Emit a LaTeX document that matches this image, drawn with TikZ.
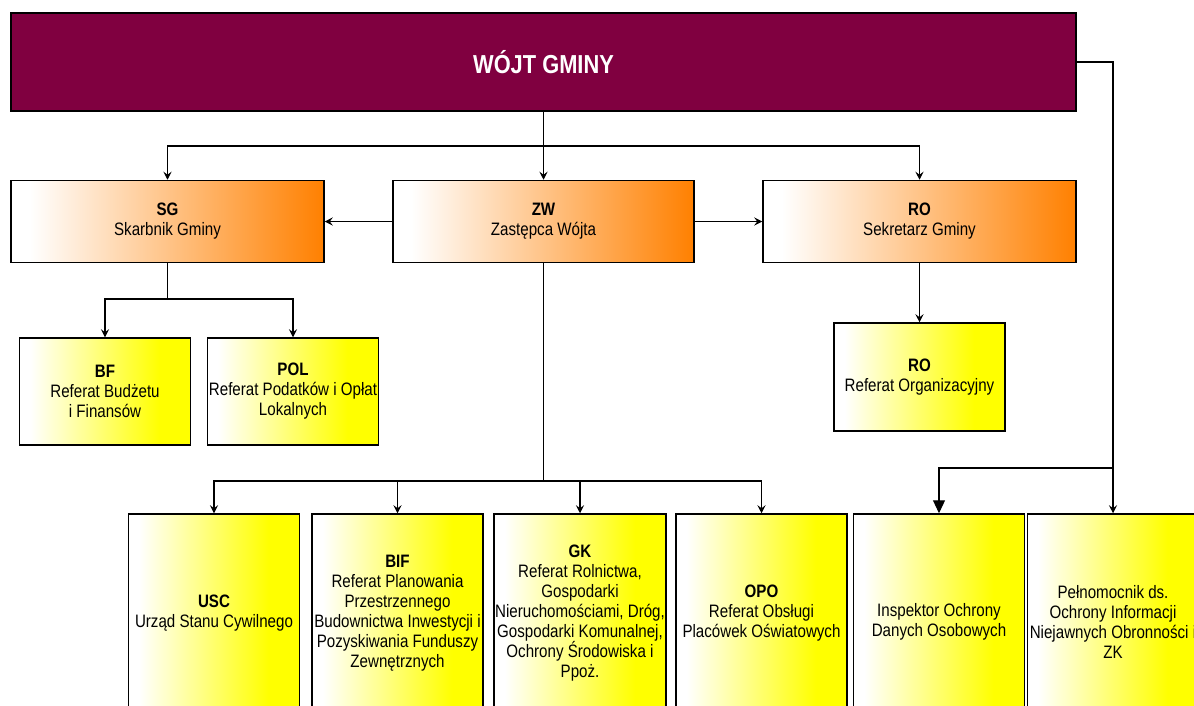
\documentclass[tikz,border=0pt]{standalone}
\usepackage{fontspec}
\setmainfont[FakeStretch=0.84]{Liberation Sans}
\usetikzlibrary{arrows.meta}
\definecolor{wojtred}{RGB}{128,0,64}
\definecolor{orangeB}{RGB}{255,128,0}
\definecolor{yellowB}{RGB}{255,255,0}
\pgfdeclarehorizontalshading{orangefade}{100bp}{color(0bp)=(white); color(28bp)=(white); color(75bp)=(orangeB); color(100bp)=(orangeB)}
\pgfdeclarehorizontalshading{yellowfade}{100bp}{color(0bp)=(white); color(28bp)=(white); color(66bp)=(yellowB); color(100bp)=(yellowB)}
\tikzset{
  box/.style={rectangle, draw=black, line width=1.5pt, inner sep=1pt, align=center, font=\fontsize{18}{20}\selectfont},
  head/.style={box, fill=wojtred, text=white, minimum width=1065pt, minimum height=98pt, font=\fontsize{26}{30}\selectfont\bfseries},
  chief/.style={box, shade, shading=orangefade, minimum height=82pt},
  unit/.style={box, shade, shading=yellowfade, minimum width=171pt},
  conn/.style={line width=1.1pt, -{Stealth[length=8pt,width=8pt,inset=3pt]}},
  bigconn/.style={line width=1.1pt, -{Triangle[length=13pt,width=12pt]}}
}
\begin{document}
\begin{tikzpicture}[x=1pt,y=-1pt]
\useasboundingbox (0,0) rectangle (1194,705);
\fill[white] (0,0) rectangle (1194,705);
\node[head](wojt) at (543.5,62) {WÓJT GMINY};
\node[chief, minimum width=313pt](sg) at (167.5,221.5) {\textbf{SG}\\Skarbnik Gminy};
\node[chief, minimum width=301pt](zw) at (543.5,221.5) {\textbf{ZW}\\Zastępca Wójta};
\node[chief, minimum width=313pt](ro) at (919.5,221.5) {\textbf{RO}\\Sekretarz Gminy};
\node[unit, minimum height=107pt](bf) at (105,391.5) {\textbf{BF}\\Referat Budżetu\\i Finansów};
\node[unit, minimum height=107pt](pol) at (293,391.5) {\textbf{POL}\\Referat Podatków i Opłat\\Lokalnych};
\node[unit, minimum height=108pt](org) at (919.5,377) {\textbf{RO}\\Referat Organizacyjny};
\node[unit, minimum height=198pt](usc) at (214,613) {\textbf{USC}\\Urząd Stanu Cywilnego};
\node[unit, minimum height=198pt](bif) at (397.5,613) {\textbf{BIF}\\Referat Planowania\\Przestrzennego\\Budownictwa Inwestycji i\\Pozyskiwania Funduszy\\Zewnętrznych};
\node[unit, minimum height=198pt](gk) at (580,613) {\textbf{GK}\\Referat Rolnictwa,\\Gospodarki\\Nieruchomościami, Dróg,\\Gospodarki Komunalnej,\\Ochrony Środowiska i\\Ppoż.};
\node[unit, minimum height=198pt](opo) at (761.5,613) {\textbf{OPO}\\Referat Obsługi\\Placówek Oświatowych};
\node[unit, minimum height=216pt](insp) at (939,622) {Inspektor Ochrony\\Danych Osobowych};
\node[unit, minimum height=216pt](peln) at (1113,622) {Pełnomocnik ds.\\Ochrony Informacji\\Niejawnych Obronności i\\ZK};
\coordinate (top) at (543.5,146);
\coordinate (robend) at (919.5,146);
\coordinate (sgsplit) at (167.5,299);
\coordinate (zwsplit) at (543.5,481);
\coordinate (rightbend) at (1113,62);
\coordinate (rightsplit) at (1113,468);
\draw[line width=1.1pt](wojt)--(top);
\draw[conn](top)--(zw);
\draw[conn](top)-|(sg);
\draw[line width=2.2pt](top)--(robend);
\draw[conn](robend)--(ro);
\draw[conn](zw)--(sg);
\draw[conn](zw)--(ro);
\draw[line width=1.1pt](sg)--(sgsplit);
\draw[conn](sgsplit)-|(bf);
\draw[conn](sgsplit)-|(pol);
\draw[conn](ro)--(org);
\draw[line width=1.1pt](zw)--(zwsplit);
\draw[conn](zwsplit)-|(usc);
\draw[conn](zwsplit)-|(bif);
\draw[conn](zwsplit)-|(gk);
\draw[conn](zwsplit)-|(opo);
\draw[line width=1.1pt](wojt.east)--(rightbend)--(rightsplit);
\draw[conn](rightsplit)--(peln);
\draw[bigconn](rightsplit)-|(insp);
\end{tikzpicture}
\end{document}
